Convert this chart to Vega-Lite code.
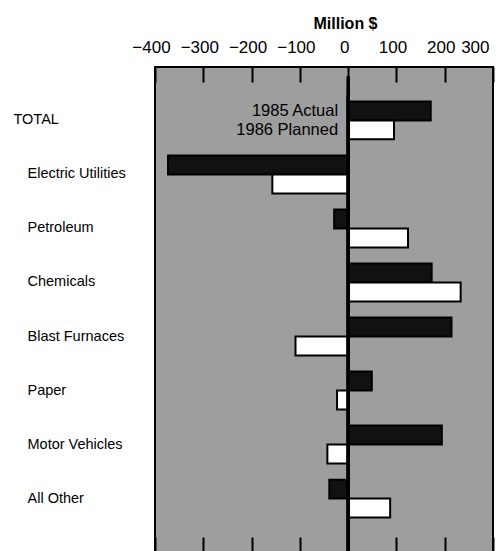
{
  "$schema": "https://vega.github.io/schema/vega-lite/v6.json",
  "autosize": {"type": "none"},
  "padding": {"left": 155, "top": 67, "right": 5, "bottom": 0},
  "width": 338,
  "height": 485,
  "background": "white",
  "config": {
    "font": "Liberation Sans",
    "view": {"fill": "#9e9e9e", "stroke": "black", "strokeWidth": 2}
  },
  "data": {
    "values": [
      {"category": "TOTAL", "year": "1985 Actual", "value": 171},
      {"category": "TOTAL", "year": "1986 Planned", "value": 95},
      {"category": "Electric Utilities", "year": "1985 Actual", "value": -373},
      {"category": "Electric Utilities", "year": "1986 Planned", "value": -157},
      {"category": "Petroleum", "year": "1985 Actual", "value": -29},
      {"category": "Petroleum", "year": "1986 Planned", "value": 124},
      {"category": "Chemicals", "year": "1985 Actual", "value": 173},
      {"category": "Chemicals", "year": "1986 Planned", "value": 233},
      {"category": "Blast Furnaces", "year": "1985 Actual", "value": 214},
      {"category": "Blast Furnaces", "year": "1986 Planned", "value": -109},
      {"category": "Paper", "year": "1985 Actual", "value": 49},
      {"category": "Paper", "year": "1986 Planned", "value": -23},
      {"category": "Motor Vehicles", "year": "1985 Actual", "value": 194},
      {"category": "Motor Vehicles", "year": "1986 Planned", "value": -43},
      {"category": "All Other", "year": "1985 Actual", "value": -39},
      {"category": "All Other", "year": "1986 Planned", "value": 87}
    ]
  },
  "encoding": {
    "y": {
      "field": "category",
      "type": "nominal",
      "sort": ["TOTAL", "Electric Utilities", "Petroleum", "Chemicals", "Blast Furnaces", "Paper", "Motor Vehicles", "All Other"],
      "scale": {"paddingInner": 0.3, "paddingOuter": 0.64},
      "axis": {
        "title": null,
        "domain": false,
        "ticks": false,
        "labelAlign": "left",
        "labelPadding": {"condition": {"test": "datum.value === 'TOTAL'", "value": 142}, "value": 128},
        "labelFontSize": 14.5,
        "labelColor": "black",
        "labelFont": "Liberation Sans"
      }
    },
    "yOffset": {"field": "year", "type": "nominal", "scale": {"paddingInner": 0, "paddingOuter": 0}}
  },
  "layer": [
    {
      "mark": {"type": "bar", "stroke": "black", "strokeWidth": 2},
      "encoding": {
        "x": {
          "field": "value",
          "type": "quantitative",
          "scale": {"domain": [-400, 300], "nice": false, "zero": false},
          "axis": {
            "orient": "top",
            "values": [-400, -300, -200, -100, 0, 100, 200, 300],
            "grid": false,
            "domain": false,
            "tickSize": -15,
            "tickWidth": 2,
            "tickColor": "black",
            "labelPadding": 26,
            "labelFlush": false,
            "labelOffset": -4,
            "labelAlign": {"condition": {"test": "datum.value === 300", "value": "right"}, "value": "center"},
            "labelFontSize": 17,
            "labelColor": "black",
            "title": "Million $",
            "titleFontSize": 16,
            "titleFontWeight": "bold",
            "titleColor": "black",
            "titleX": 190,
            "titleY": -36,
            "titleAlign": "center",
            "titleBaseline": "bottom"
          }
        },
        "color": {
          "field": "year",
          "type": "nominal",
          "scale": {"domain": ["1985 Actual", "1986 Planned"], "range": ["#111111", "#ffffff"]},
          "legend": null
        }
      }
    },
    {
      "transform": [{"filter": "datum.category === 'TOTAL'"}],
      "mark": {"type": "text", "align": "right", "baseline": "middle", "dx": -10, "fontSize": 16.5, "color": "black"},
      "encoding": {
        "x": {"datum": 0, "type": "quantitative", "axis": null},
        "text": {"field": "year"}
      }
    },
    {
      "mark": {"type": "rule", "color": "black", "strokeWidth": 2.5},
      "encoding": {
        "x": {
          "datum": 0,
          "type": "quantitative",
          "axis": {
            "orient": "bottom",
            "values": [-400, -300, -200, -100, 0, 100, 200, 300],
            "grid": false,
            "domain": false,
            "labels": false,
            "tickSize": -15,
            "tickWidth": 2,
            "tickColor": "black",
            "title": null
          }
        },
        "y": {"value": 0},
        "y2": {"value": 485}
      }
    }
  ],
  "resolve": {"axis": {"x": "independent"}}
}
